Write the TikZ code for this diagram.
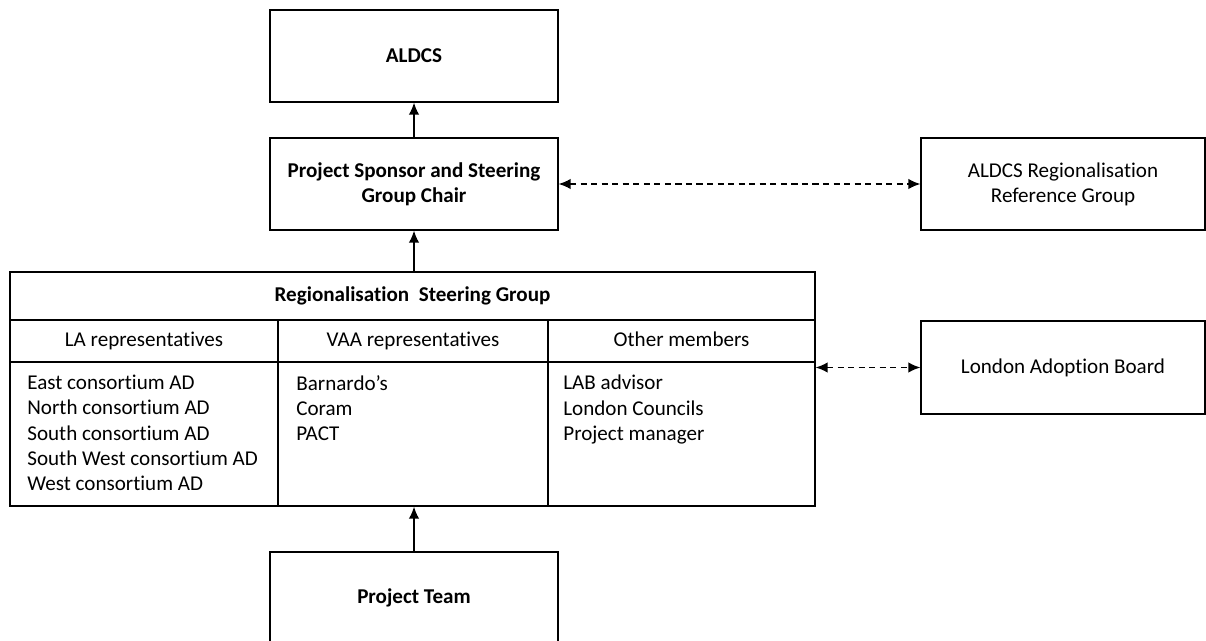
\documentclass[tikz,border=0pt]{standalone}
\usepackage{fontspec}
\setmainfont{Carlito}[Ligatures=NoCommon]
\usetikzlibrary{arrows.meta}
\tikzset{
  box/.style={draw, thick, minimum width=5.76cm, minimum height=1.84cm, align=center, font=\fontsize{12}{14.2}\selectfont},
  cell/.style={draw, thick, inner sep=0pt, text height=1.6ex, text depth=.4ex, font=\fontsize{12}{14.2}\selectfont},
  list/.style={anchor=north west, inner sep=0pt, align=left, font=\fontsize{12}{14.3}\selectfont},
  up/.style={-{Latex[length=2.4mm,width=2.1mm]}, thick},
  link/.style={{Latex[length=2.4mm,width=2.1mm]}-{Latex[length=2.4mm,width=2.1mm]}, thick, dash pattern=on 3.5pt off 2.5pt}
}
\begin{document}
\begin{tikzpicture}[x=0.02cm, y=-0.02cm]
\useasboundingbox (0,0) rectangle (1206,641);
\clip (0,0) rectangle (1206,641);

\node[box] (aldcs) at (414,56) {\bfseries ALDCS};
\node[box] (sponsor) at (414,184) {\bfseries Project Sponsor and Steering\\\bfseries Group Chair};
\node[box, minimum width=5.68cm] (refgroup) at (1063,184) {ALDCS Regionalisation\\Reference Group};
\node[box, minimum width=5.68cm, minimum height=1.86cm] (lab) at (1063,367.5) {London Adoption Board};
\node[box] (team) at (414,598) {\bfseries Project Team};

\node[cell, minimum width=16.1cm, minimum height=0.96cm] (rsghead) at (412.5,296) {\bfseries Regionalisation~ Steering Group};
\node[cell, minimum width=5.36cm, minimum height=0.84cm] (lahead) at (144,341) {LA representatives};
\node[cell, minimum width=5.4cm, minimum height=0.84cm] (vaahead) at (413,341) {VAA representatives};
\node[cell, minimum width=5.34cm, minimum height=0.84cm] (otherhead) at (681.5,341) {Other members};
\node[cell, minimum width=5.36cm, minimum height=2.88cm] (labody) at (144,434) {};
\node[cell, minimum width=5.4cm, minimum height=2.88cm] (vaabody) at (413,434) {};
\node[cell, minimum width=5.34cm, minimum height=2.88cm] (otherbody) at (681.5,434) {};

\node[list] (lalist) at (27,375) {East consortium AD\\North consortium AD\\South consortium AD\\South West consortium AD\\West consortium AD};
\node[list] (vaalist) at (296,375) {Barnardo’s\\Coram\\PACT};
\node[list] (otherlist) at (563,375) {LAB advisor\\London Councils\\Project manager};

\draw[up] (sponsor) -- (aldcs);
\draw[up] (sponsor |- rsghead.north) -- (sponsor);
\draw[up] (team) -- (team |- vaabody.south);
\draw[link] (sponsor) -- (refgroup);
\draw[link] (lab.west -| otherbody.east) -- (lab.west);
\end{tikzpicture}
\end{document}
